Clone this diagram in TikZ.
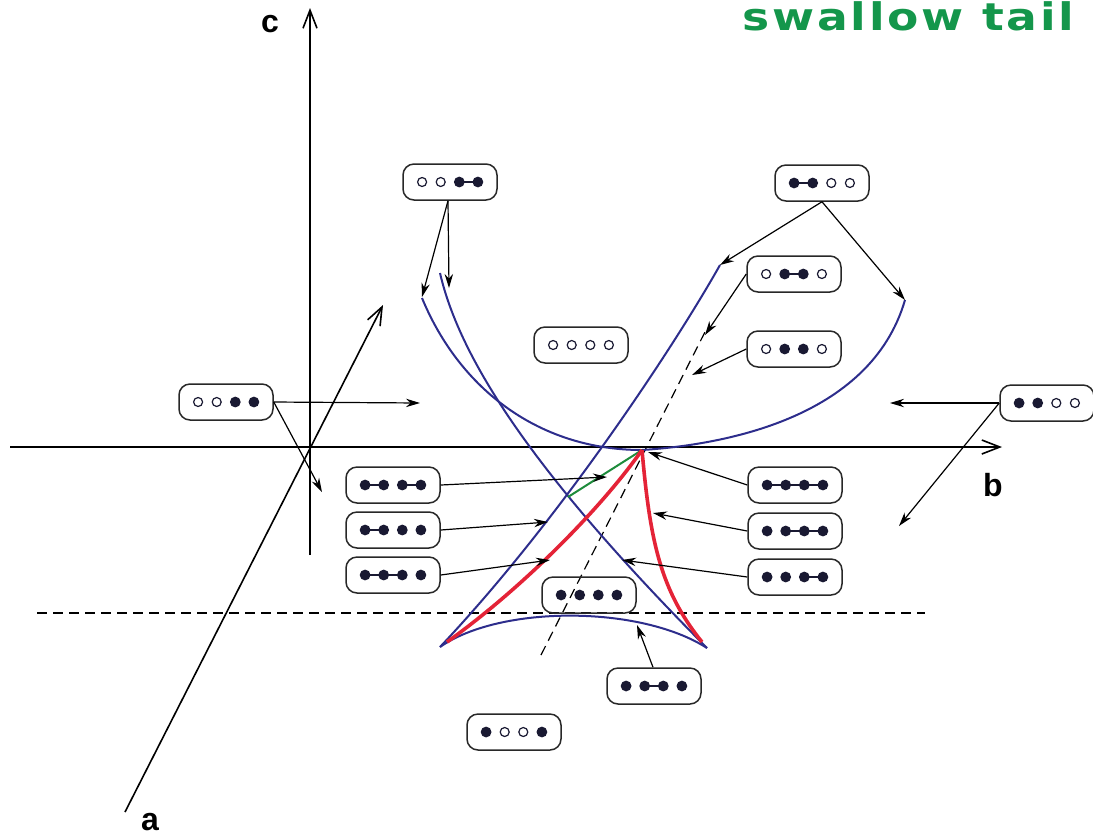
\documentclass[tikz,border=0pt]{standalone}
\usepackage{fontspec}
\setmainfont{Liberation Sans}
\newfontfamily\hand[LetterSpace=6]{DejaVu Sans}
\usetikzlibrary{arrows.meta,calc}
\definecolor{dotc}{RGB}{25,25,50}
\definecolor{curveblue}{RGB}{45,45,140}
\definecolor{curvered}{RGB}{228,35,55}
\definecolor{curvegreen}{RGB}{30,140,60}
\definecolor{handgreen}{RGB}{20,150,75}
\definecolor{boxc}{RGB}{40,40,40}
\newcommand\drow[2]{\foreach \t [count=\i] in {#2} {\node[\t] (#1-\i) at ($(#1)+({(\i-2.5)*18.6},0)$) {};}}
\newcommand\dlink[3]{\draw[lnk] ($(#1)+({(#2-2.5)*18.6},0)$) -- ($(#1)+({(#3-2.5)*18.6},0)$);}
\begin{document}
\begin{tikzpicture}[x=0.5pt,y=-0.5pt,
  dbox/.style={draw=boxc, line width=0.75pt, rounded corners=5.5pt, minimum width=47pt, minimum height=18pt, inner sep=0pt},
  fd/.style={circle, fill=dotc, inner sep=0pt, minimum size=5.4pt},
  od/.style={circle, draw=dotc, line width=0.6pt, fill=white, inner sep=0pt, minimum size=4.5pt},
  lnk/.style={draw=dotc, line width=1pt},
  axis/.style={line width=0.8pt, -{Straight Barb[length=9pt,width=7pt]}},
  ptr/.style={line width=0.6pt, -{Stealth[length=7pt,width=4.2pt]}},
  bl/.style={curveblue, line width=1pt},
  rd/.style={curvered, line width=1.8pt},
  dsh/.style={line width=0.6pt, dash pattern=on 5pt off 3pt},
  lab/.style={font=\bfseries\fontsize{16}{16}\selectfont, inner sep=0pt}
]
\useasboundingbox (0,0) rectangle (1093,837);
% title
\node[anchor=base west, inner sep=0pt, text=handgreen] (title) at (742,30) {\scalebox{1.2}[1]{\hand\bfseries\fontsize{19}{19}\selectfont swallow tail}};
% axes
\coordinate (c0) at (310,555); \coordinate (c1) at (310,8);
\coordinate (b0) at (10,447); \coordinate (b1e) at (1002,447);
\coordinate (a0) at (125,812); \coordinate (a1) at (383,305);
\draw[axis] (c0) -- (c1);
\draw[axis] (b0) -- (b1e);
\draw[axis] (a0) -- (a1);
\node[lab] (lc) at (270,24) {c};
\node[lab] (lb) at (993,485) {b};
\node[lab] (la) at (150,822) {a};
% dashed lines
\coordinate (h0) at (37,613); \coordinate (h1) at (925,613);
\coordinate (d0) at (541,655); \coordinate (d1) at (706,330);
\draw[dsh] (h0) -- (h1);
\draw[dsh] (d0) -- (d1);
% curves
\coordinate (V) at (642,450);
\coordinate (L) at (440,647);
\coordinate (R) at (707,648);
\coordinate (A0) at (422,298);
\coordinate (A1) at (905,300);
\coordinate (B0) at (440,273);
\coordinate (C0) at (720,265);
\coordinate (G1) at (568,497);
\draw[bl] (A0) .. controls (460,390) and (540,450) .. (V) .. controls (720,445) and (870,420) .. (A1);
\draw[bl] (B0) .. controls (460,360) and (535,475) .. (R);
\draw[bl] (C0) .. controls (675,345) and (560,520) .. (L);
\draw[bl] (L) .. controls (500,605) and (640,605) .. (R);
\draw[curvegreen, line width=1pt] (V) -- (G1);
\draw[rd] (V) .. controls (600,510) and (520,590) .. (447,642);
\draw[rd] (V) .. controls (650,540) and (660,590) .. (702,642);
% boxes
\node[dbox] (n1) at (450,182) {}; \dlink{n1}{3}{4} \drow{n1}{od,od,fd,fd}
\node[dbox] (n2) at (822,183) {}; \dlink{n2}{1}{2} \drow{n2}{fd,fd,od,od}
\node[dbox] (n3) at (794,274) {}; \dlink{n3}{2}{3} \drow{n3}{od,fd,fd,od}
\node[dbox] (n4) at (794,349) {}; \drow{n4}{od,fd,fd,od}
\node[dbox] (n5) at (581,345) {}; \drow{n5}{od,od,od,od}
\node[dbox] (n6) at (226,402) {}; \drow{n6}{od,od,fd,fd}
\node[dbox] (n7) at (1047,403) {}; \drow{n7}{fd,fd,od,od}
\node[dbox] (n8) at (393,485) {}; \dlink{n8}{1}{2} \dlink{n8}{3}{4} \drow{n8}{fd,fd,fd,fd}
\node[dbox] (n9) at (393,530) {}; \dlink{n9}{1}{2} \drow{n9}{fd,fd,fd,fd}
\node[dbox] (n10) at (393,575) {}; \dlink{n10}{1}{3} \drow{n10}{fd,fd,fd,fd}
\node[dbox] (n11) at (795,485) {}; \dlink{n11}{1}{4} \drow{n11}{fd,fd,fd,fd}
\node[dbox] (n12) at (795,531) {}; \dlink{n12}{2}{4} \drow{n12}{fd,fd,fd,fd}
\node[dbox] (n13) at (795,577) {}; \dlink{n13}{3}{4} \drow{n13}{fd,fd,fd,fd}
\node[dbox] (n14) at (589,595) {}; \drow{n14}{fd,fd,fd,fd}
\node[dbox] (n15) at (654,686) {}; \dlink{n15}{2}{3} \drow{n15}{fd,fd,fd,fd}
\node[dbox] (n16) at (514,732) {}; \drow{n16}{fd,od,od,fd}
% pointers
\coordinate (p1a) at (422,297); \coordinate (p1b) at (449,288);
\coordinate (p2a) at (720,265); \coordinate (p2b) at (905,300);
\coordinate (p3) at (705,335); \coordinate (p4) at (692,375);
\coordinate (p6a) at (420,403); \coordinate (p6b) at (322,492);
\coordinate (p7a) at (890,403); \coordinate (p7b) at (899,526);
\coordinate (p8) at (607,477); \coordinate (p9) at (548,522); \coordinate (p10) at (550,560);
\coordinate (p11) at (648,452); \coordinate (p12) at (653,513); \coordinate (p13) at (622,560);
\coordinate (p15) at (637,625);
\draw[ptr] (n1.south) ++(-2,0) -- (p1a);
\draw[ptr] (n1.south) ++(-2,0) -- (p1b);
\draw[ptr] (n2.south) -- (p2a);
\draw[ptr] (n2.south) -- (p2b);
\draw[ptr] (n3.west) -- (p3);
\draw[ptr] (n4.west) -- (p4);
\draw[ptr] (n6.east) -- (p6a);
\draw[ptr] (n6.east) -- (p6b);
\draw[ptr] (n7.west) -- (p7a);
\draw[ptr] (n7.west) -- (p7b);
\draw[ptr] (n8.east) -- (p8);
\draw[ptr] (n9.east) -- (p9);
\draw[ptr] (n10.east) -- (p10);
\draw[ptr] (n11.west) -- (p11);
\draw[ptr] (n12.west) -- (p12);
\draw[ptr] (n13.west) -- (p13);
\draw[ptr] (n15.north) ++(-1,0) -- (p15);
\end{tikzpicture}
\end{document}
